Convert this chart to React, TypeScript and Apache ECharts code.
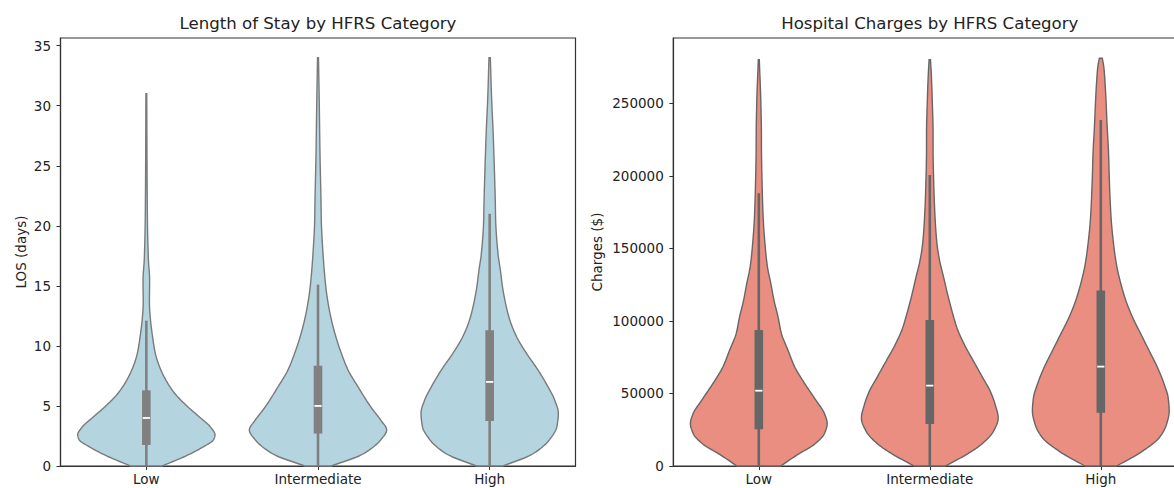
import React, { useEffect, useRef } from "react";
import * as echarts from "echarts";

const categories = ["Low", "Intermediate", "High"];

const losTicks = [0, 5, 10, 15, 20, 25, 30, 35];
const chargeTicks = [0, 50000, 100000, 150000, 200000, 250000];

// Violin outlines: value positions and relative half-widths (1 = widest)
const losLowValues = [0, 0.9, 1.6, 2.2, 2.6, 3.2, 4.1, 4.9, 6.0, 7.2, 8.3, 9.4, 10.8, 12.2, 13.6, 15.5, 17.2, 20.5, 25, 31];
const losLowWidths = [0.23, 0.6, 0.83, 0.98, 1.0, 0.94, 0.77, 0.61, 0.42, 0.28, 0.19, 0.13, 0.09, 0.06, 0.045, 0.048, 0.03, 0.016, 0.01, 0.006];

const losIntValues = [0, 1, 2.2, 3.0, 3.8, 4.9, 6.6, 8, 9.4, 10.8, 12.2, 13.6, 15, 17.7, 20.5, 22, 26, 30, 34];
const losIntWidths = [0.194, 0.655, 0.917, 1.0, 0.917, 0.771, 0.582, 0.437, 0.339, 0.258, 0.194, 0.146, 0.112, 0.073, 0.048, 0.044, 0.029, 0.019, 0.007];

const losHighValues = [0, 1, 2.2, 3.3, 4.4, 5.5, 6.6, 8.0, 9.4, 10.8, 12.2, 13.6, 15, 16.3, 17.7, 20.5, 22, 25, 27.7, 30.5, 34];
const losHighWidths = [0.194, 0.626, 0.873, 0.98, 1.0, 0.946, 0.849, 0.703, 0.534, 0.389, 0.291, 0.229, 0.185, 0.156, 0.121, 0.087, 0.082, 0.067, 0.051, 0.029, 0.01];

const chargesLowValues = [0, 8000, 15000, 22500, 29300, 36000, 45000, 56900, 68400, 79900, 91400, 102800, 114000, 126000, 137000, 149000, 172000, 195000, 218000, 230000, 252000, 280000];
const chargesLowWidths = [0.32, 0.572, 0.815, 0.961, 1.0, 0.961, 0.84, 0.67, 0.524, 0.426, 0.33, 0.281, 0.223, 0.175, 0.127, 0.098, 0.063, 0.048, 0.039, 0.038, 0.029, 0.007];

const chargesIntValues = [0, 8000, 15000, 24000, 33000, 42300, 51500, 60700, 72200, 83700, 95200, 106700, 118000, 129700, 141000, 152700, 171000, 194000, 218000, 229000, 252000, 270000, 280000];
const chargesIntWidths = [0.229, 0.539, 0.757, 0.932, 1.0, 0.956, 0.884, 0.776, 0.64, 0.505, 0.397, 0.325, 0.262, 0.204, 0.146, 0.106, 0.077, 0.058, 0.048, 0.048, 0.036, 0.022, 0.01];

const chargesHighValues = [0, 10300, 19500, 28700, 37900, 47000, 56300, 67800, 79300, 90800, 102300, 113800, 125300, 136800, 148300, 171300, 194300, 217300, 232000, 255000, 265000, 275000, 281000];
const chargesHighWidths = [0.233, 0.611, 0.854, 0.961, 1.0, 0.985, 0.927, 0.83, 0.709, 0.587, 0.466, 0.368, 0.295, 0.237, 0.199, 0.15, 0.127, 0.112, 0.095, 0.073, 0.061, 0.044, 0.022];

// Inner box plots
const losWhiskerLow = [0, 0, 0];
const losQ1 = [1.75, 2.7, 3.75];
const losMedian = [4.0, 5.0, 7.0];
const losQ3 = [6.3, 8.35, 11.3];
const losWhiskerHigh = [12.1, 15.1, 21.0];

const chargesWhiskerLow = [0, 0, 0];
const chargesQ1 = [25300, 29000, 36700];
const chargesMedian = [51900, 55400, 68500];
const chargesQ3 = [93700, 100600, 120900];
const chargesWhiskerHigh = [188000, 200600, 238500];

const losProfiles = [
  { values: losLowValues, widths: losLowWidths },
  { values: losIntValues, widths: losIntWidths },
  { values: losHighValues, widths: losHighWidths },
];
const chargesProfiles = [
  { values: chargesLowValues, widths: chargesLowWidths },
  { values: chargesIntValues, widths: chargesIntWidths },
  { values: chargesHighValues, widths: chargesHighWidths },
];

function monotoneSample(xs: number[], ys: number[], steps = 12): [number, number][] {
  const n = xs.length;
  const d: number[] = [];
  for (let i = 0; i < n - 1; i++) d.push((ys[i + 1] - ys[i]) / (xs[i + 1] - xs[i]));
  const m: number[] = new Array(n);
  m[0] = d[0];
  m[n - 1] = d[n - 2];
  for (let i = 1; i < n - 1; i++) {
    if (d[i - 1] * d[i] <= 0) m[i] = 0;
    else {
      const h0 = xs[i] - xs[i - 1];
      const h1 = xs[i + 1] - xs[i];
      const w1 = 2 * h1 + h0;
      const w2 = h1 + 2 * h0;
      m[i] = (w1 + w2) / (w1 / d[i - 1] + w2 / d[i]);
    }
  }
  const out: [number, number][] = [];
  for (let i = 0; i < n - 1; i++) {
    const h = xs[i + 1] - xs[i];
    for (let s = 0; s < steps; s++) {
      const t = s / steps;
      const t2 = t * t;
      const t3 = t2 * t;
      const h00 = 2 * t3 - 3 * t2 + 1;
      const h10 = t3 - 2 * t2 + t;
      const h01 = -2 * t3 + 3 * t2;
      const h11 = t3 - t2;
      out.push([xs[i] + t * h, Math.max(0, h00 * ys[i] + h10 * h * m[i] + h01 * ys[i + 1] + h11 * h * m[i + 1])]);
    }
  }
  out.push([xs[n - 1], ys[n - 1]]);
  return out;
}

function makeRenderItem(profiles: { values: number[]; widths: number[] }[], fill: string, stroke: string, boxColor: string) {
  return (params: any, api: any) => {
    const i = params.dataIndex;
    const cat = api.value(0);
    const prof = profiles[i];
    const band = api.size([1, 0])[0];
    const maxHalf = band * 0.4;
    const cx = api.coord([cat, 0])[0];
    const samples = monotoneSample(prof.values, prof.widths);
    const left = samples.map(([v, w]) => [cx - w * maxHalf, api.coord([cat, v])[1]]);
    const right = samples
      .slice()
      .reverse()
      .map(([v, w]) => [cx + w * maxHalf, api.coord([cat, v])[1]]);
    const yWl = api.coord([cat, api.value(1)])[1];
    const yQ1 = api.coord([cat, api.value(2)])[1];
    const yMed = api.coord([cat, api.value(3)])[1];
    const yQ3 = api.coord([cat, api.value(4)])[1];
    const yWh = api.coord([cat, api.value(5)])[1];
    const boxW = 8.6;
    return {
      type: "group",
      children: [
        {
          type: "polygon",
          shape: { points: left.concat(right) },
          style: { fill, stroke, lineWidth: 1.4 },
        },
        {
          type: "line",
          shape: { x1: cx, y1: yWl, x2: cx, y2: yWh },
          style: { stroke: boxColor, lineWidth: 2.6 },
        },
        {
          type: "rect",
          shape: { x: cx - boxW / 2, y: yQ3, width: boxW, height: yQ1 - yQ3 },
          style: { fill: boxColor },
        },
        {
          type: "line",
          shape: { x1: cx - 3.6, y1: yMed, x2: cx + 3.6, y2: yMed },
          style: { stroke: "#ffffff", lineWidth: 1.8 },
        },
      ],
    };
  };
}

const font = "DejaVu Sans";
const textColor = "#222222";
const spineColor = "#333333";

export default function App() {
  const ref = useRef<HTMLDivElement>(null);
  useEffect(() => {
    document.body.style.margin = "0";
    if (!ref.current) return;
    const chart = echarts.init(ref.current, null, { renderer: "svg" });
    const gridBase = {
      top: 38,
      height: 428,
      show: true,
      borderColor: spineColor,
      borderWidth: 1.2,
      backgroundColor: "transparent",
      containLabel: false,
      outerBoundsMode: "none",
    };
    const xAxisBase = {
      type: "category",
      data: categories,
      axisLine: { show: true, lineStyle: { color: spineColor, width: 1.2 } },
      axisTick: { show: true, alignWithLabel: true, length: 4, lineStyle: { color: spineColor, width: 1 } },
      axisLabel: { fontSize: 13.5, fontFamily: font, color: textColor, margin: 6 },
      splitLine: { show: false },
    };
    const yAxisBase = {
      type: "value",
      min: 0,
      nameLocation: "middle",
      nameRotate: 90,
      nameTextStyle: { fontSize: 13.5, fontFamily: font, color: textColor },
      axisLine: { show: true, onZero: false, lineStyle: { color: spineColor, width: 1.2 } },
      axisTick: { show: true, length: 4, lineStyle: { color: spineColor, width: 1 } },
      splitLine: { show: false },
    };
    const option: any = {
      animation: false,
      textStyle: { fontFamily: font },
      grid: [
        { ...gridBase, left: 60.5, width: 515 },
        { ...gridBase, left: 673.3, width: 513 },
      ],
      xAxis: [
        { ...xAxisBase, gridIndex: 0 },
        { ...xAxisBase, gridIndex: 1 },
      ],
      yAxis: [
        {
          ...yAxisBase,
          gridIndex: 0,
          max: 35.64,
          name: "LOS (days)",
          nameGap: 33,
          axisTick: { ...yAxisBase.axisTick, customValues: losTicks },
          axisLabel: {
            fontSize: 13.5,
            fontFamily: font,
            color: textColor,
            margin: 9.5,
            customValues: losTicks,
            formatter: (v: number) => String(v),
          },
        },
        {
          ...yAxisBase,
          gridIndex: 1,
          max: 295000,
          name: "Charges ($)",
          nameGap: 69.5,
          axisTick: { ...yAxisBase.axisTick, customValues: chargeTicks },
          axisLabel: {
            fontSize: 13.5,
            fontFamily: font,
            color: textColor,
            margin: 9.5,
            customValues: chargeTicks,
            formatter: (v: number) => String(v),
          },
        },
      ],
      graphic: [
        {
          type: "text",
          x: 318,
          y: 23.5,
          style: {
            text: "Length of Stay by HFRS Category",
            fontSize: 16.6,
            fontFamily: font,
            fill: textColor,
            align: "center",
            verticalAlign: "middle",
          },
        },
        {
          type: "text",
          x: 929.8,
          y: 23.5,
          style: {
            text: "Hospital Charges by HFRS Category",
            fontSize: 16.6,
            fontFamily: font,
            fill: textColor,
            align: "center",
            verticalAlign: "middle",
          },
        },
      ],
      series: [
        {
          type: "custom",
          xAxisIndex: 0,
          yAxisIndex: 0,
          renderItem: makeRenderItem(losProfiles, "#B4D4DF", "#7a7a7a", "#808080"),
          encode: { x: 0, y: [1, 2, 3, 4, 5] },
          data: categories.map((_, i) => [i, losWhiskerLow[i], losQ1[i], losMedian[i], losQ3[i], losWhiskerHigh[i]]),
        },
        {
          type: "custom",
          xAxisIndex: 1,
          yAxisIndex: 1,
          renderItem: makeRenderItem(chargesProfiles, "#E98E80", "#666666", "#666666"),
          encode: { x: 0, y: [1, 2, 3, 4, 5] },
          data: categories.map((_, i) => [
            i,
            chargesWhiskerLow[i],
            chargesQ1[i],
            chargesMedian[i],
            chargesQ3[i],
            chargesWhiskerHigh[i],
          ]),
        },
      ],
    };
    chart.setOption(option);
    return () => chart.dispose();
  }, []);
  return <div ref={ref} style={{ width: 1174, height: 488 }} />;
}
